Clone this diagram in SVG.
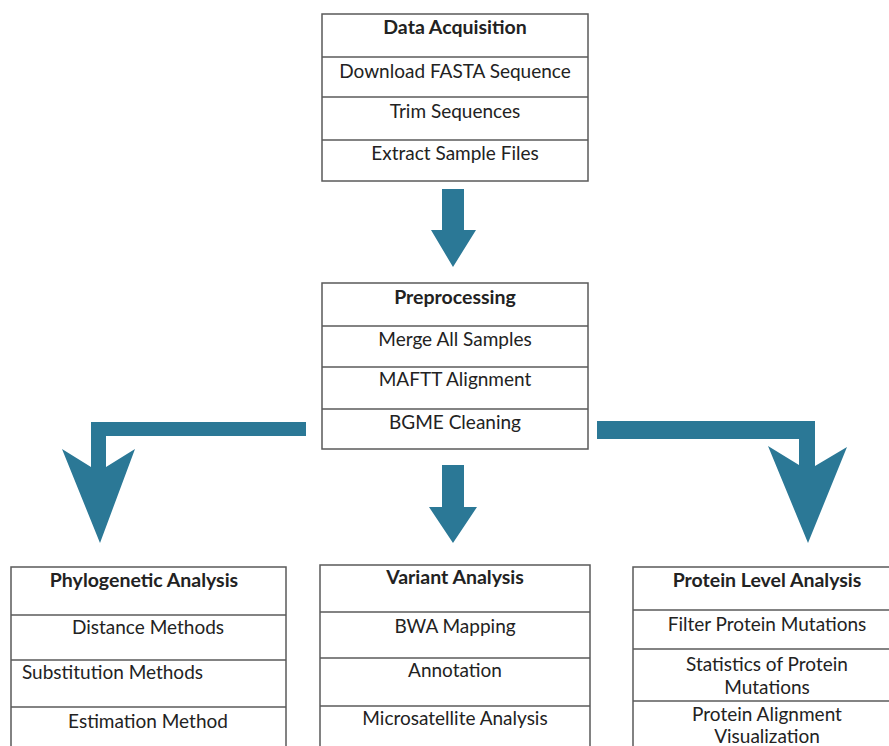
<svg xmlns="http://www.w3.org/2000/svg" width="889" height="746" viewBox="0 0 889 746">
<style>
.box{fill:#fff;stroke:#5a5a5a;stroke-width:1.5}
.div{stroke:#5a5a5a;stroke-width:1.5}
text{font-family:Lato,"Open Sans","Liberation Sans",sans-serif;font-size:19px;fill:#222;text-anchor:middle}
.t{font-weight:bold;font-size:19.5px}
.arr{fill:#2b7896}
</style>
<rect width="889" height="746" fill="#fff"/>
<g id="connectors">
<path class="arr" d="M442,189 H464 V230 H476 L453,267 L431,230 H442 Z"/>
<path class="arr" d="M442,465 H464 V507 H477 L453,543 L429,507 H442 Z"/>
<path class="arr" d="M306,422 V436 H106 V467 L135,449 L100,543 L62,449 L91,467 V422 Z"/>
<path class="arr" d="M597,421 H815 V466 L847,447 L808,543 L768,446 L799,465 V439 H597 Z"/>
</g>
<g id="data-acquisition">
<rect class="box" x="322" y="14" width="266" height="167"/>
<line class="div" x1="322" y1="57" x2="588" y2="57"/>
<line class="div" x1="322" y1="97" x2="588" y2="97"/>
<line class="div" x1="322" y1="140" x2="588" y2="140"/>
<text class="t" x="455" y="34">Data Acquisition</text>
<text x="455" y="78">Download FASTA Sequence</text>
<text x="455" y="118">Trim Sequences</text>
<text x="455" y="160">Extract Sample Files</text>
</g>
<g id="preprocessing">
<rect class="box" x="322" y="283" width="266" height="166"/>
<line class="div" x1="322" y1="326" x2="588" y2="326"/>
<line class="div" x1="322" y1="367" x2="588" y2="367"/>
<line class="div" x1="322" y1="409" x2="588" y2="409"/>
<text class="t" x="455" y="304">Preprocessing</text>
<text x="455" y="346">Merge All Samples</text>
<text x="455" y="386">MAFTT Alignment</text>
<text x="455" y="429">BGME Cleaning</text>
</g>
<g id="phylogenetic-analysis">
<rect class="box" x="11" y="567" width="275" height="200"/>
<line class="div" x1="11" y1="615" x2="286" y2="615"/>
<line class="div" x1="11" y1="660" x2="286" y2="660"/>
<line class="div" x1="11" y1="707" x2="286" y2="707"/>
<text class="t" x="144" y="587">Phylogenetic Analysis</text>
<text x="148" y="634">Distance Methods</text>
<text x="22" y="679" style="text-anchor:start">Substitution Methods</text>
<text x="148" y="728">Estimation Method</text>
</g>
<g id="variant-analysis">
<rect class="box" x="320" y="565" width="270" height="200"/>
<line class="div" x1="320" y1="612" x2="590" y2="612"/>
<line class="div" x1="320" y1="658" x2="590" y2="658"/>
<line class="div" x1="320" y1="706" x2="590" y2="706"/>
<text class="t" x="455" y="584">Variant Analysis</text>
<text x="455" y="633">BWA Mapping</text>
<text x="455" y="677">Annotation</text>
<text x="455" y="725">Microsatellite Analysis</text>
</g>
<g id="protein-level-analysis">
<rect class="box" x="633" y="567" width="270" height="200"/>
<line class="div" x1="633" y1="610" x2="903" y2="610"/>
<line class="div" x1="633" y1="649" x2="903" y2="649"/>
<line class="div" x1="633" y1="701" x2="903" y2="701"/>
<text class="t" x="767" y="587">Protein Level Analysis</text>
<text x="767" y="631">Filter Protein Mutations</text>
<text x="767" y="671">Statistics of Protein</text>
<text x="767" y="694">Mutations</text>
<text x="767" y="721">Protein Alignment</text>
<text x="767" y="743">Visualization</text>
</g>
</svg>
